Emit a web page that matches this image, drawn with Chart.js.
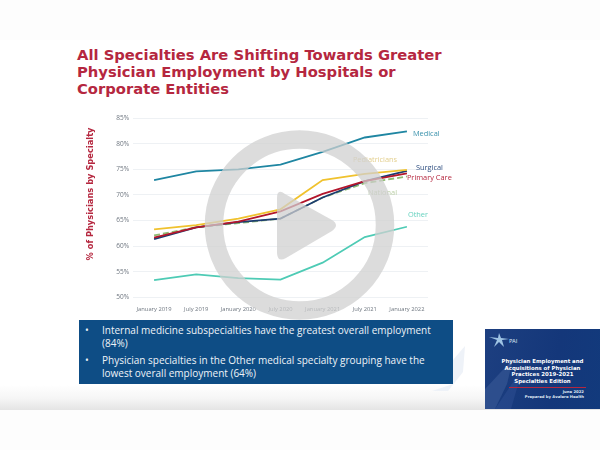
<!DOCTYPE html>
<html><head><meta charset="utf-8">
<style>
html,body{margin:0;padding:0;width:600px;height:450px;overflow:hidden;background:#fdfdfd;font-family:"DejaVu Sans",sans-serif}
#stage{position:absolute;left:0;top:0;width:600px;height:450px;overflow:hidden;filter:blur(0.4px)}
#slide{position:absolute;left:0;top:40px;width:600px;height:370px;background:linear-gradient(#fff 0,#fff 345px,#f6f6f6 358px,#e4e4e4 370px)}
#title{position:absolute;left:77px;top:46px;color:#b5273f;font:bold 14.75px/17px "DejaVu Sans";white-space:nowrap}
#deco{position:absolute;left:0;top:0}
#box{position:absolute;left:79px;top:320px;width:374px;height:64px;background:#0e4d85;color:#eef3f8;font:10px/13px "Open Sans","DejaVu Sans"}
#box div{position:absolute;left:23px;white-space:nowrap}
#box i{position:absolute;left:-17px;font-style:normal}
#chartWrap{position:absolute;left:0;top:0;width:600px;height:450px}
#overlay{position:absolute;left:0;top:0;pointer-events:none}
#thumb{position:absolute;left:485px;top:329px;width:115px;height:80px;background:linear-gradient(100deg,#1d3f80,#14377a 60%,#123a7c);color:#fff;text-align:center;overflow:hidden}
#thumb svg{position:absolute;left:0;top:0}
#thumb .t{position:absolute;left:0;width:115px;top:29px;font:bold 5.4px/6.7px "DejaVu Sans"}
#thumb .r{position:absolute;left:24px;width:77px;top:58px;height:1px;background:#b5273f}
#thumb .d{position:absolute;right:16px;top:61px;text-align:right;font:bold 3.8px/4.6px "DejaVu Sans";color:#dfe6f2}
#thumb .l{position:absolute;left:24px;top:9px;font:5.5px "DejaVu Sans";color:#cfe0f0}
</style>
<script src="https://cdn.jsdelivr.net/npm/chart.js@4"></script>
</head><body>
<div id="stage">
<div id="slide"></div>
<svg id="deco" width="600" height="450"><path d="M453 360 L465 346 L463 372 L448 391 L432 391 L453 384 Z" fill="#eef2f8"/></svg>
<div id="title">All Specialties Are Shifting Towards Greater<br>Physician Employment by Hospitals or<br>Corporate Entities</div>
<div id="chartWrap"><canvas id="c" width="600" height="450"></canvas></div>
<div id="box">
<div style="top:4px"><i>•</i>Internal medicine subspecialties have the greatest overall employment<br>(84%)</div>
<div style="top:34px"><i>•</i>Physician specialties in the Other medical specialty grouping have the<br>lowest overall employment (64%)</div>
</div>
<div id="thumb">
<svg width="115" height="80"><path d="M0 80 L0 60 L28 30 L22 55 L10 80 Z" fill="#3f5f9c" opacity=".5"/><path d="M10 80 L38 38 L30 66 L26 80 Z" fill="#2d4f92" opacity=".55"/><path d="M4 8 L13 9 L14 4 L16 9 L24 10 L17 11 L19 18 L14 13 L9 18 L12 11 Z" fill="#9fc4e4"/></svg>
<div class="l">PAI</div><div class="t">Physician Employment and<br>Acquisitions of Physician<br>Practices 2019-2021<br>Specialties Edition</div><div class="r"></div><div class="d">June 2022<br>Prepared by Avalere Health</div></div>
<svg id="overlay" width="600" height="450">
<circle cx="299.5" cy="225" r="85.5" fill="none" stroke="rgba(208,208,208,0.74)" stroke-width="18.5"/>
<path d="M285 194 Q277 188 277 198 L277 252 Q277 263 286 258 L332 231 Q340 225 332 220 Z" fill="rgba(208,208,208,0.74)"/>
</svg>
</div>
<script>
const categories=["January 2019","July 2019","January 2020","July 2020","January 2021","July 2021","January 2022"];
const medical=[72.9,74.6,75.0,75.9,78.4,81.2,82.4];
const pediatricians=[63.3,64.1,65.4,67.2,72.9,74.1,74.9];
const primaryCare=[61.7,63.7,64.8,66.8,70.2,72.7,74.2];
const surgical=[61.4,63.7,64.7,65.4,69.5,72.7,74.7];
const national=[62.1,63.7,64.5,65.4,69.5,72.3,73.6];
const other=[53.4,54.5,53.8,53.5,56.8,61.8,63.8];
const yTicks=[50,55,60,65,70,75,80,85];
const yAxisTitle="% of Physicians by Specialty";
const seriesLabels=[
 {t:"Medical",c:"#3c93ad",dx:6,dy:3,d:0},
 {t:"Pediatricians",c:"#e3cf8e",dx:-54,dy:-10,d:1},
 {t:"Surgical",c:"#2f4f80",dx:9,dy:-3,d:3},
 {t:"Primary Care",c:"#b5273f",dx:0,dy:4,d:2},
 {t:"National",c:"#bcd0a8",dx:-39,dy:16,d:4},
 {t:"Other",c:"#66d2bf",dx:1,dy:-12,d:5}
];
const labelPlugin={id:"labels",afterDraw(ch){
 const ctx=ch.ctx;ctx.save();ctx.font='7.4px "Open Sans","DejaVu Sans"';ctx.textBaseline="middle";ctx.textAlign="left";
 seriesLabels.forEach(l=>{const p=ch.getDatasetMeta(l.d).data[6];ctx.fillStyle=l.c;ctx.fillText(l.t,p.x+l.dx,p.y+l.dy);});
 ctx.translate(91,194);ctx.rotate(-Math.PI/2);ctx.textAlign="center";ctx.fillStyle="#b5273f";ctx.font='bold 8.3px "DejaVu Sans"';ctx.fillText(yAxisTitle,0,0);
 ctx.restore();
}};
const ds=(label,data,color,extra)=>Object.assign({label,data,borderColor:color,backgroundColor:color,borderWidth:1.8,pointRadius:0,tension:0,fill:false},extra||{});
new Chart(document.getElementById("c"),{type:"line",
 data:{labels:categories,datasets:[
  ds("Medical",medical,"#1f86a2"),
  ds("Pediatricians",pediatricians,"#f0c22e"),
  ds("Primary Care",primaryCare,"#b3162c"),
  ds("Surgical",surgical,"#1c3c70"),
  ds("National",national,"#8fbb72",{borderDash:[6,3]}),
  ds("Other",other,"#4ecbb5")
 ]},
 plugins:[labelPlugin],
 options:{responsive:false,animation:false,
  layout:{padding:{left:83,right:172,top:118,bottom:137.5}},
  plugins:{legend:{display:false},title:{display:false},tooltip:{enabled:false}},
  scales:{
   x:{offset:true,grid:{display:false},border:{display:false},
      ticks:{color:"#6f7780",font:{size:5.8,family:'"Open Sans","DejaVu Sans"'},autoSkip:false,maxRotation:0,padding:0}},
   y:{min:50,max:85,afterBuildTicks(a){a.ticks=yTicks.map(v=>({value:v}));},
      afterFit(a){a.width=50;},
      grid:{color:"#eef1f4",lineWidth:1,drawTicks:false},border:{display:false},
      ticks:{color:"#6f7780",font:{size:6.5,family:'"Open Sans","DejaVu Sans"'},padding:4,callback:v=>v+"%"}}
  }}});
</script>
</body></html>
